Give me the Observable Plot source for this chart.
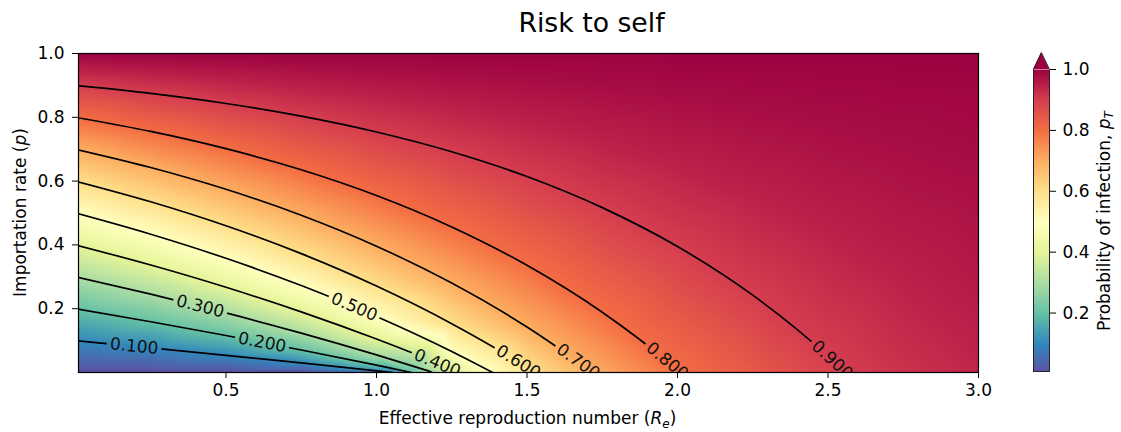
<!DOCTYPE html>
<html>
<head>
<meta charset="utf-8">
<script src="https://cdn.jsdelivr.net/npm/d3@7"></script>
<script src="https://cdn.jsdelivr.net/npm/@observablehq/plot@0.6"></script>
<style>
  body { margin: 0; background: #fff; }
  #wrap { position: relative; width: 1121px; height: 432px; background: #fff; }
  #wrap svg { position: absolute; top: 0; }
</style>
</head>
<body>
<div id="wrap"></div>
<script>
// ---------- data ----------
// contour levels of the probability of infection p_T
const LEVELS = [0.1, 0.2, 0.3, 0.4, 0.5, 0.6, 0.7, 0.8, 0.9];
// effective reproduction number sample positions
const R_GRID = [0, 0.25, 0.5, 0.75, 1, 1.25, 1.5, 1.75, 2, 2.25, 2.5, 2.75, 3];
// importation rate p of each contour at R_GRID positions
const P_010 = [0.1, 0.0772, 0.0539, 0.0299, 0.0053];
const P_020 = [0.2, 0.1590, 0.1159, 0.0705, 0.0229];
const P_030 = [0.3, 0.2455, 0.1867, 0.1234, 0.0551];
const P_040 = [0.4, 0.3369, 0.2672, 0.1901, 0.1049, 0.0108];
const P_050 = [0.5, 0.4334, 0.3580, 0.2725, 0.1756, 0.0659];
const P_060 = [0.6, 0.5353, 0.4601, 0.3727, 0.2712, 0.1532, 0.0162];
const P_070 = [0.7, 0.6426, 0.5743, 0.4929, 0.3959, 0.2803, 0.1427];
const P_080 = [0.8, 0.7557, 0.7016, 0.6356, 0.5549, 0.4563, 0.3360, 0.1890, 0.0094];
const P_090 = [0.9, 0.8748, 0.8432, 0.8036, 0.7540, 0.6920, 0.6143, 0.5169, 0.3950, 0.2424, 0.0512];
// R where each contour meets p = 0
const R_END = [1.054, 1.116, 1.189, 1.277, 1.386, 1.527, 1.720, 2.012, 2.558];
// extra (unlabelled) iso-values used for the shading
const HIGH_LEVELS = [0.95, 0.98, 1.0];
const P_095 = [0.95, 0.9366, 0.9196, 0.8980, 0.8707, 0.8361, 0.7921, 0.7364, 0.6657, 0.5761, 0.4624, 0.3183, 0.1356];
const P_098 = [0.98, 0.9744, 0.9674, 0.9583, 0.9467, 0.9319, 0.9130, 0.8889, 0.8580, 0.8186, 0.7682, 0.7039, 0.6217];
const P_100 = [1, 1, 1, 1, 1, 1, 1, 1, 1, 1, 1, 1, 1];
// values along p = 0
const FLOOR_R = [0, 0.25, 0.5, 0.75, 1, 2.75, 3];
const FLOOR_Z = [0, 0, 0, 0, 0, 0.920, 0.9405];
// contour label anchors
const LABEL_R = [0.195, 0.62, 0.414, 1.202, 0.926, 1.471, 1.67, 1.966, 2.514];
const LABEL_P = [0.0823, 0.0944, 0.2074, 0.0294, 0.2056, 0.0331, 0.0344, 0.0359, 0.0392];
const LABEL_ANGLE = [5.6, 10.9, 14.2, 22.4, 22.9, 31.6, 35.7, 39.3, 42.6];
// ticks
const X_TICKS = [0.5, 1.0, 1.5, 2.0, 2.5, 3.0];
const Y_TICKS = [0.2, 0.4, 0.6, 0.8, 1.0];
const CB_TICKS = [0.2, 0.4, 0.6, 0.8, 1.0];
// colormap (Spectral_r)
const COLOR_STOPS = [0, 0.1, 0.2, 0.3, 0.4, 0.5, 0.6, 0.7, 0.8, 0.9, 1.0];
const SPECTRAL_R = ["#5e4fa2", "#3288bd", "#66c2a5", "#abdda4", "#e6f598", "#ffffbf",
                    "#fee08b", "#fdae61", "#f46d43", "#d53e4f", "#9e0142"];

// ---------- build tables ----------
const CONTOURS_P = [P_010, P_020, P_030, P_040, P_050, P_060, P_070, P_080, P_090];
const HIGH_P = [P_095, P_098, P_100];

const contourPts = [];
LEVELS.forEach((lv, i) => {
  CONTOURS_P[i].forEach((p, j) => contourPts.push({level: lv, r: R_GRID[j], p}));
  contourPts.push({level: lv, r: R_END[i], p: 0});
});
const fillPts = contourPts.map(d => ({r: d.r, p: d.p, z: d.level}));
HIGH_LEVELS.forEach((lv, i) => HIGH_P[i].forEach((p, j) => fillPts.push({r: R_GRID[j], p, z: lv})));
FLOOR_R.forEach((r, j) => fillPts.push({r, p: 0, z: FLOOR_Z[j]}));
const labels = LEVELS.map((lv, i) => ({level: lv, r: LABEL_R[i], p: LABEL_P[i], angle: LABEL_ANGLE[i]}));

const FONT = "DejaVu Sans";
const FS = 17;
const colorOpts = {type: "linear", domain: COLOR_STOPS, range: SPECTRAL_R, interpolate: "rgb", clamp: true};
const X_DOMAIN = [0.01, 3];
const Y_DOMAIN = [0, 1];

// ---------- main chart ----------
const main = Plot.plot({
  width: 1000, height: 432,
  marginLeft: 78, marginRight: 22, marginTop: 53, marginBottom: 60,
  style: {fontFamily: FONT, fontSize: FS + "px", color: "black", background: "white", overflow: "visible"},
  x: {domain: X_DOMAIN},
  y: {domain: Y_DOMAIN},
  color: colorOpts,
  marks: [
    Plot.raster(fillPts, {x: "r", y: "p", fill: "z", interpolate: "barycentric",
      x1: X_DOMAIN[0], x2: X_DOMAIN[1], y1: Y_DOMAIN[0], y2: Y_DOMAIN[1]}),
    Plot.line(contourPts, {x: "r", y: "p", z: "level", stroke: "black", strokeWidth: 1.7,
      curve: "monotone-x", clip: true}),
    Plot.text(labels, {x: "r", y: "p", text: d => d.level.toFixed(3), rotate: "angle",
      fill: "#111", fontSize: FS, clip: true}),
    Plot.frame({stroke: "black", strokeWidth: 1.2}),
    Plot.axisX({ticks: X_TICKS, tickFormat: ".1f", tickSize: 6, tickPadding: 5, label: null}),
    Plot.axisY({ticks: Y_TICKS, tickFormat: ".1f", tickSize: 6, tickPadding: 8, label: null})
  ]
});
main.style.left = "0px";

// break contour lines under their labels (inline labels)
{
  const ns = "http://www.w3.org/2000/svg";
  const lineG = main.querySelector('g[aria-label="line"]');
  const textG = main.querySelector('g[aria-label="text"]');
  if (lineG && textG) {
    const defs = document.createElementNS(ns, "defs");
    const mask = document.createElementNS(ns, "mask");
    mask.setAttribute("id", "clabel-gap");
    mask.setAttribute("maskUnits", "userSpaceOnUse");
    mask.setAttribute("x", 0); mask.setAttribute("y", 0);
    mask.setAttribute("width", 1000); mask.setAttribute("height", 432);
    const bg = document.createElementNS(ns, "rect");
    bg.setAttribute("width", 1000); bg.setAttribute("height", 432); bg.setAttribute("fill", "white");
    mask.appendChild(bg);
    const clone = textG.cloneNode(true);
    clone.removeAttribute("clip-path");
    clone.setAttribute("fill", "black"); clone.setAttribute("stroke", "black");
    clone.setAttribute("stroke-width", 9); clone.setAttribute("stroke-linejoin", "round");
    clone.querySelectorAll("text").forEach(t => {
      t.setAttribute("fill", "black"); t.setAttribute("stroke", "black");
      t.setAttribute("stroke-width", 9); t.setAttribute("stroke-linejoin", "round");
    });
    mask.appendChild(clone);
    defs.appendChild(mask);
    main.insertBefore(defs, main.firstChild);
    const wrapG = document.createElementNS(ns, "g");
    wrapG.setAttribute("mask", "url(#clabel-gap)");
    lineG.parentNode.insertBefore(wrapG, lineG);
    wrapG.appendChild(lineG);
  }
}

const ms = d3.select(main);
ms.append("text").attr("x", 591.5).attr("y", 31.7).attr("text-anchor", "middle")
  .attr("font-size", 26.7).attr("fill", "black").text("Risk to self");
const xl = ms.append("text").attr("x", 527.5).attr("y", 424).attr("text-anchor", "middle").attr("fill", "black");
xl.append("tspan").text("Effective reproduction number (");
xl.append("tspan").attr("font-style", "italic").text("R");
xl.append("tspan").attr("font-style", "italic").attr("font-size", 12).attr("dy", 3.5).text("e");
xl.append("tspan").attr("dy", -3.5).text(")");
const yl = ms.append("text").attr("transform", "translate(25.5,212.5) rotate(-90)")
  .attr("text-anchor", "middle").attr("fill", "black");
yl.append("tspan").text("Importation rate (");
yl.append("tspan").attr("font-style", "italic").text("p");
yl.append("tspan").text(")");

// ---------- colorbar ----------
const CB_MIN = 0.008;
const EXT = 0.055;
const outline = [
  {x: 0, y: CB_MIN}, {x: 0, y: 1}, {x: 0.5, y: 1 + EXT}, {x: 1, y: 1}, {x: 1, y: CB_MIN}, {x: 0, y: CB_MIN}
];
const arrow = [{x: 0, y1: 1, y2: 1}, {x: 0.5, y1: 1, y2: 1 + EXT}, {x: 1, y1: 1, y2: 1}];
const cb = Plot.plot({
  width: 121, height: 432,
  marginLeft: 33, marginRight: 72, marginTop: 69, marginBottom: 61,
  style: {fontFamily: FONT, fontSize: FS + "px", color: "black", background: "transparent", overflow: "visible"},
  x: {domain: [0, 1], axis: null},
  y: {domain: [CB_MIN, 1]},
  color: colorOpts,
  marks: [
    Plot.raster({fill: (x, y) => y, x1: 0, x2: 1, y1: CB_MIN, y2: 1}),
    Plot.areaY(arrow, {x: "x", y1: "y1", y2: "y2", fill: SPECTRAL_R[SPECTRAL_R.length - 1]}),
    Plot.line(outline, {x: "x", y: "y", stroke: "#222", strokeWidth: 1}),
    Plot.axisY({anchor: "right", ticks: CB_TICKS, tickFormat: ".1f", tickSize: 6, tickPadding: 7, label: null})
  ]
});
cb.style.left = "1000px";
const cs = d3.select(cb);
const cl = cs.append("text").attr("transform", "translate(109.5,221) rotate(-90)")
  .attr("text-anchor", "middle").attr("fill", "black");
cl.append("tspan").text("Probability of infection, ");
cl.append("tspan").attr("font-style", "italic").text("p");
cl.append("tspan").attr("font-style", "italic").attr("font-size", 12).attr("dy", 3.5).text("T");

const wrap = document.getElementById("wrap");
wrap.appendChild(main);
wrap.appendChild(cb);
</script>
</body>
</html>
